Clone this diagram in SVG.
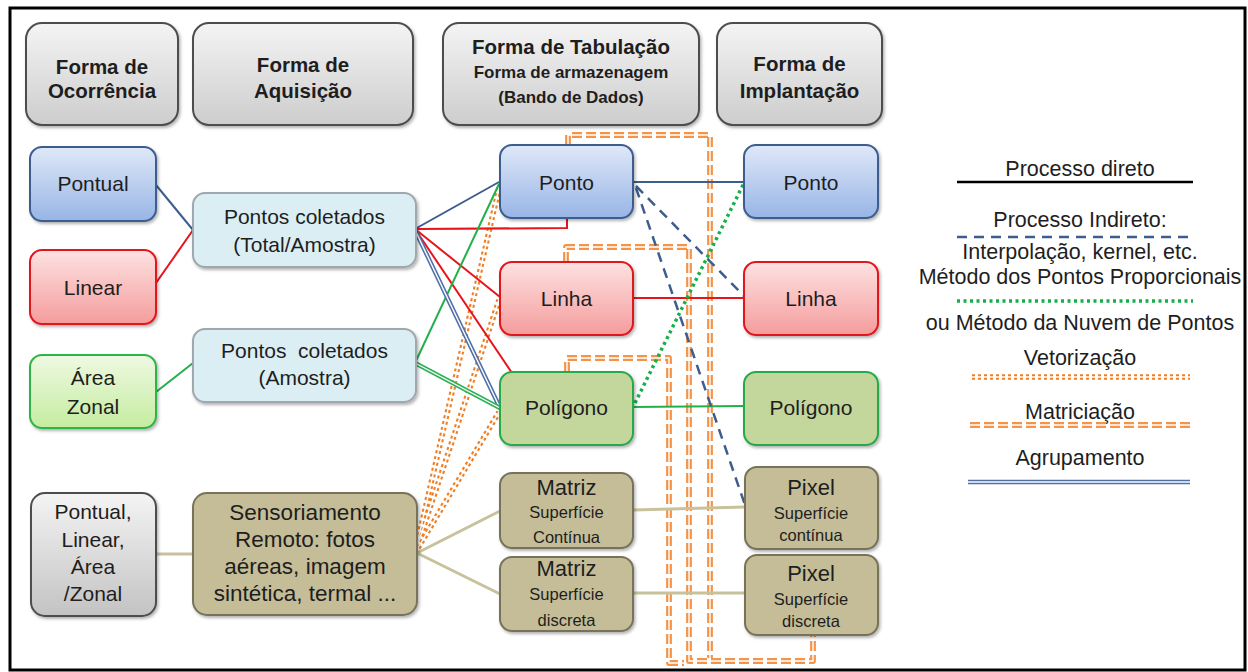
<svg xmlns="http://www.w3.org/2000/svg" width="1248" height="672" viewBox="0 0 1248 672">
<defs>
<linearGradient id="gHead" x1="0" y1="0" x2="0" y2="1"><stop offset="0" stop-color="#f4f4f4"/><stop offset="1" stop-color="#cdcdcd"/></linearGradient>
<linearGradient id="gBlue" x1="0" y1="0" x2="0" y2="1"><stop offset="0" stop-color="#dfe8f8"/><stop offset="1" stop-color="#98b5e6"/></linearGradient>
<linearGradient id="gRed" x1="0" y1="0" x2="0" y2="1"><stop offset="0" stop-color="#fde2e2"/><stop offset="1" stop-color="#f59c9c"/></linearGradient>
<linearGradient id="gGreen" x1="0" y1="0" x2="0" y2="1"><stop offset="0" stop-color="#eef9e2"/><stop offset="1" stop-color="#c5eca0"/></linearGradient>
<linearGradient id="gGray" x1="0" y1="0" x2="0" y2="1"><stop offset="0" stop-color="#f4f4f4"/><stop offset="1" stop-color="#c3c3c3"/></linearGradient>
<filter id="sh" x="-10%" y="-10%" width="125%" height="135%"><feDropShadow dx="1.5" dy="2" stdDeviation="1.5" flood-color="#000" flood-opacity="0.3"/></filter>
<style>
text{font-family:"Liberation Sans",Arial,sans-serif;fill:#1e1e1e;text-anchor:middle}
.h{font-weight:bold;font-size:20.5px}
.hs{font-weight:bold;font-size:17px}
.t{font-size:21px}
.sr{font-size:22.5px}
.big{font-size:22px}
.sm{font-size:16.5px}
.lg{font-size:21.5px}
.head{fill:url(#gHead);stroke:#4d4d4d;stroke-width:2;filter:url(#sh)}
.blue{fill:url(#gBlue);stroke:#3d5d8e;stroke-width:2;filter:url(#sh)}
.red{fill:url(#gRed);stroke:#e3141c;stroke-width:2;filter:url(#sh)}
.green{fill:url(#gGreen);stroke:#2fb34a;stroke-width:2;filter:url(#sh)}
.olive{fill:#c3d69b;stroke:#27a94a;stroke-width:2;filter:url(#sh)}
.gray{fill:url(#gGray);stroke:#4d4d4d;stroke-width:2;filter:url(#sh)}
.lb{fill:#dbeef4;stroke:#a0a8ad;stroke-width:2;filter:url(#sh)}
.tan{fill:#c4bd97;stroke:#77735a;stroke-width:2;filter:url(#sh)}
.c{fill:none;stroke-width:2}
.cb{stroke:#3d5d8e}
.cr{stroke:#e8141c}
.cg{stroke:#22b04b}
.ct{stroke:#c8c29c;stroke-width:3}
.dash{fill:none;stroke:#3d5d8e;stroke-width:2.5;stroke-dasharray:10 7}
.dot{fill:none;stroke:#14b04a;stroke-width:3.5;stroke-dasharray:3 3.5}
.dbl{fill:none;stroke-width:4.5}
.in{fill:none;stroke:#fff;stroke-width:1.4}
.vet{fill:none;stroke:#ee7f26;stroke-width:5.6;stroke-dasharray:3 3}
.mat{fill:none;stroke:#f3944a;stroke-width:5.8;stroke-dasharray:10 4;stroke-linejoin:round}
</style>
</defs>
<rect x="0" y="0" width="1248" height="672" fill="#fff"/>
<rect x="10" y="8" width="1235" height="662" fill="none" stroke="#000" stroke-width="3"/>

<g id="connectors">
<g>
<path class="mat" d="M568,145 V135 H710 V658"/>
<path class="mat" d="M566,262 V247 H689 V661 H813 V635"/>
<path class="mat" d="M567,372 V358 H669 V663 H684"/>
<path class="in" stroke-width="1.6" d="M568,145 V135 H710 V658"/>
<path class="in" stroke-width="1.6" d="M566,262 V247 H689 V661 H813 V635"/>
<path class="in" stroke-width="1.6" d="M567,372 V358 H669 V663 H684"/>
</g>
<g>
<path class="vet" d="M415,553 L499,188"/>
<path class="vet" d="M415,553 L499,300"/>
<path class="vet" d="M415,553 L499,412"/>
<path class="in" stroke-width="1.5" d="M415,553 L499,188"/>
<path class="in" stroke-width="1.5" d="M415,553 L499,300"/>
<path class="in" stroke-width="1.5" d="M415,553 L499,412"/>
</g>
<path class="c cb" d="M156,185 L193,230"/>
<path class="c cr" d="M156,283 L193,230"/>
<path class="c cg" d="M156,392 L193,363"/>
<path class="c cb" d="M415,229 L499,182"/>
<path class="c cr" d="M415,229 L567,228 L567,218"/>
<path class="c cr" d="M415,229 L500,297"/>
<path class="c cr" d="M415,229 L512,373"/>
<path class="c cg" d="M415,363 L499,184"/>
<path class="c cb" d="M633,182 L744,182"/>
<path class="c cr" d="M633,298 L744,298"/>
<path class="c cg" d="M633,407 L744,406"/>
<path class="c ct" d="M156,554 L193,554"/>
<path class="c ct" d="M417,553 L500,511"/>
<path class="c ct" d="M417,553 L500,594"/>
<path class="c ct" d="M633,510 L745,507"/>
<path class="c ct" d="M633,593 L745,593"/>
<path class="dbl" stroke="#4f6fa8" d="M415,230 L500,408"/>
<path class="in" d="M415,230 L500,408"/>
<path class="dbl" stroke="#2fb05a" d="M415,363 L500,408"/>
<path class="in" d="M415,363 L500,408"/>
<path class="dash" d="M636,186 L744,296"/>
<path class="dash" d="M636,188 L745,505"/>
<path class="dot" d="M635,403 L744,183"/>
</g>

<g id="h-ocorrencia"><rect class="head" x="26" y="23" width="152" height="102" rx="16"/><text class="h" x="102" y="74">Forma de</text><text class="h" x="102" y="98">Ocorrência</text></g>
<g id="h-aquisicao"><rect class="head" x="193" y="23" width="220" height="102" rx="16"/><text class="h" x="303" y="72">Forma de</text><text class="h" x="303" y="98">Aquisição</text></g>
<g id="h-tabulacao"><rect class="head" x="443" y="23" width="256" height="102" rx="16"/><text class="h" x="571" y="54">Forma de Tabulação</text><text class="hs" x="571" y="78">Forma de armazenagem</text><text class="hs" x="571" y="103">(Bando de Dados)</text></g>
<g id="h-implantacao"><rect class="head" x="717" y="23" width="165" height="102" rx="16"/><text class="h" x="799.5" y="71">Forma de</text><text class="h" x="799.5" y="98">Implantação</text></g>

<g id="n-pontual"><rect class="blue" x="30" y="147" width="126" height="74" rx="12"/><text class="t" x="93" y="191">Pontual</text></g>
<g id="n-linear"><rect class="red" x="30" y="250" width="126" height="74" rx="12"/><text class="t" x="93" y="295">Linear</text></g>
<g id="n-area"><rect class="green" x="30" y="355" width="126" height="73" rx="12"/><text class="t" x="93" y="385">Área</text><text class="t" x="93" y="414">Zonal</text></g>
<g id="n-todos"><rect class="gray" x="31" y="493" width="125" height="123" rx="14"/><text class="t" x="93" y="519">Pontual,</text><text class="t" x="93" y="547">Linear,</text><text class="t" x="93" y="574">Área</text><text class="t" x="93" y="601">/Zonal</text></g>

<g id="n-pc-total"><rect class="lb" x="193" y="193" width="223" height="74" rx="12"/><text class="t" x="304.5" y="224">Pontos coletados</text><text class="t" x="304.5" y="252">(Total/Amostra)</text></g>
<g id="n-pc-amostra"><rect class="lb" x="193" y="329" width="223" height="73" rx="12"/><text class="t" x="304.5" y="358" xml:space="preserve">Pontos  coletados</text><text class="t" x="304.5" y="385">(Amostra)</text></g>
<g id="n-sensoriamento"><rect class="tan" x="193" y="493" width="224" height="122" rx="14"/><text class="sr" x="305" y="520">Sensoriamento</text><text class="sr" x="305" y="547">Remoto: fotos</text><text class="sr" x="305" y="574">aéreas, imagem</text><text class="sr" x="305" y="601">sintética, termal ...</text></g>

<g id="n-ponto-t"><rect class="blue" x="500" y="145" width="133" height="73" rx="12"/><text class="t" x="566.5" y="190">Ponto</text></g>
<g id="n-linha-t"><rect class="red" x="500" y="262" width="133" height="73" rx="12"/><text class="t" x="566.5" y="306">Linha</text></g>
<g id="n-poligono-t"><rect class="olive" x="500" y="372" width="133" height="73" rx="12"/><text class="t" x="566.5" y="415">Polígono</text></g>
<g id="n-matriz-c"><rect class="tan" x="500" y="473" width="133" height="75" rx="12"/><text class="big" x="566.5" y="495">Matriz</text><text class="sm" x="566.5" y="518">Superfície</text><text class="sm" x="566.5" y="543">Contínua</text></g>
<g id="n-matriz-d"><rect class="tan" x="500" y="557" width="133" height="74" rx="12"/><text class="big" x="566.5" y="576">Matriz</text><text class="sm" x="566.5" y="600">Superfície</text><text class="sm" x="566.5" y="626">discreta</text></g>

<g id="n-ponto-i"><rect class="blue" x="744" y="145" width="134" height="73" rx="12"/><text class="t" x="811" y="190">Ponto</text></g>
<g id="n-linha-i"><rect class="red" x="744" y="262" width="134" height="73" rx="12"/><text class="t" x="811" y="306">Linha</text></g>
<g id="n-poligono-i"><rect class="olive" x="744" y="372" width="134" height="73" rx="12"/><text class="t" x="811" y="415">Polígono</text></g>
<g id="n-pixel-c"><rect class="tan" x="745" y="467" width="133" height="82" rx="12"/><text class="big" x="811" y="495">Pixel</text><text class="sm" x="811" y="519">Superfície</text><text class="sm" x="811" y="541">contínua</text></g>
<g id="n-pixel-d"><rect class="tan" x="745" y="555" width="133" height="80" rx="12"/><text class="big" x="811" y="581">Pixel</text><text class="sm" x="811" y="605">Superfície</text><text class="sm" x="811" y="627">discreta</text></g>

<g id="legend">
<text class="lg" x="1080" y="176">Processo direto</text>
<line x1="957" y1="182" x2="1193" y2="182" stroke="#000" stroke-width="2.5"/>
<text class="lg" x="1080" y="227">Processo Indireto:</text>
<line class="dash" x1="957" y1="237" x2="1193" y2="237"/>
<text class="lg" x="1080" y="259">Interpolação, kernel, etc.</text>
<text class="lg" x="1080" y="284">Método dos Pontos Proporcionais</text>
<line class="dot" x1="957" y1="301" x2="1193" y2="301" stroke-width="3" stroke-dasharray="3 3"/>
<text class="lg" x="1080" y="330">ou Método da Nuvem de Pontos</text>
<text class="lg" x="1080" y="365">Vetorização</text>
<line class="vet" x1="972" y1="377" x2="1190" y2="377"/>
<line class="in" stroke-width="1.5" x1="972" y1="377" x2="1190" y2="377"/>
<text class="lg" x="1080" y="419">Matriciação</text>
<line class="mat" x1="970" y1="425" x2="1190" y2="425" stroke-dasharray="13 4"/>
<line class="in" stroke-width="1.6" x1="970" y1="425" x2="1190" y2="425"/>
<text class="lg" x="1080" y="465">Agrupamento</text>
<line x1="968" y1="482" x2="1190" y2="482" stroke="#4f6fa8" stroke-width="4.5"/>
<line class="in" x1="968" y1="482" x2="1190" y2="482"/>
</g>
</svg>
